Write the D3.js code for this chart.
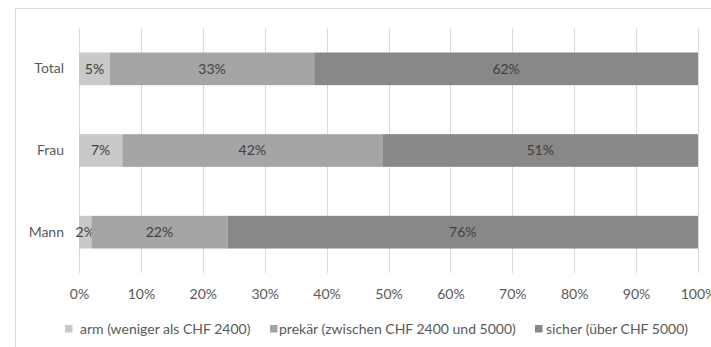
<!DOCTYPE html>
<html>
<head>
<meta charset="utf-8">
<script src="https://cdn.jsdelivr.net/npm/d3@7"></script>
<style>
  html, body { margin: 0; padding: 0; background: #fff; }
  svg { display: block; font-family: Lato, "Open Sans", sans-serif; }
</style>
</head>
<body>
<svg id="chart" width="711" height="347"></svg>
<script>
// Einkommensklassen nach Geschlecht (Anteile in %)
const categories = ["Total", "Frau", "Mann"];
const seriesNames = ["arm (weniger als CHF 2400)", "prekär (zwischen CHF 2400 und 5000)", "sicher (über CHF 5000)"];
const arm    = [5, 7, 2];
const prekaer = [33, 42, 22];
const sicher = [62, 51, 76];
const tickValues = [0, 10, 20, 30, 40, 50, 60, 70, 80, 90, 100];
const colors = ["#c9c9c9", "#a5a5a5", "#888888"];

const FONT = "14px";
const svg = d3.select("#chart");

// Rahmen des Diagrammbereichs
svg.append("rect")
  .attr("x", 15.5).attr("y", 8.5)
  .attr("width", 720).attr("height", 360)
  .attr("fill", "none").attr("stroke", "#d9d9d9");

const x = d3.scaleLinear().domain([0, 100]).range([79, 698]);
const y = d3.scaleBand().domain(categories).range([28, 273])
  .paddingInner(0.6).paddingOuter(0.3);

// Gitterlinien
svg.append("g").selectAll("line").data(tickValues).join("line")
  .attr("x1", d => Math.round(x(d)) + 0.5).attr("x2", d => Math.round(x(d)) + 0.5)
  .attr("y1", 28).attr("y2", 273)
  .attr("stroke", "#d9d9d9").attr("stroke-width", 1);

// X-Achse (Prozent)
const xAxis = d3.axisBottom(x).tickValues(tickValues).tickFormat(d => d + "%").tickSize(0).tickPadding(0);
const gx = svg.append("g").attr("transform", "translate(0,289)").call(xAxis);
gx.select(".domain").remove();
gx.selectAll("text").attr("fill", "#595959").attr("font-size", FONT)
  .attr("font-family", "Lato, sans-serif");

// Y-Achse (Kategorien)
const yAxis = d3.axisLeft(y).tickSize(0).tickPadding(0);
const gy = svg.append("g").attr("transform", "translate(64,0)").call(yAxis);
gy.select(".domain").remove();
gy.selectAll("text").attr("fill", "#595959").attr("font-size", FONT)
  .attr("font-family", "Lato, sans-serif");

// Gestapelte Daten
const rows = categories.map((c, i) => ({ cat: c, s0: arm[i], s1: prekaer[i], s2: sicher[i] }));
const stack = d3.stack().keys(["s0", "s1", "s2"]);
const layers = stack(rows);

const layerG = svg.append("g").selectAll("g").data(layers).join("g")
  .attr("fill", (d, i) => colors[i]);

layerG.selectAll("rect").data(d => d).join("rect")
  .attr("x", d => x(d[0]))
  .attr("width", d => x(d[1]) - x(d[0]))
  .attr("y", d => y(d.data.cat))
  .attr("height", y.bandwidth());

// Datenbeschriftungen
layerG.selectAll("text").data(d => d).join("text")
  .attr("x", d => (x(d[0]) + x(d[1])) / 2)
  .attr("y", d => y(d.data.cat) + y.bandwidth() / 2)
  .attr("dy", "0.35em")
  .attr("text-anchor", "middle")
  .attr("fill", "#404040")
  .attr("font-size", FONT)
  .text(d => (d[1] - d[0]) + "%");

// Legende
const legendItems = [
  { sx: 65, tx: 80 },
  { sx: 270, tx: 279 },
  { sx: 535, tx: 546 }
];
const lg = svg.append("g").selectAll("g").data(seriesNames).join("g");
lg.append("rect")
  .attr("x", (d, i) => legendItems[i].sx).attr("y", 325)
  .attr("width", 7.5).attr("height", 7.5)
  .attr("fill", (d, i) => colors[i]);
lg.append("text")
  .attr("x", (d, i) => legendItems[i].tx).attr("y", 334)
  .attr("fill", "#595959").attr("font-size", FONT)
  .text(d => d);
</script>
</body>
</html>
